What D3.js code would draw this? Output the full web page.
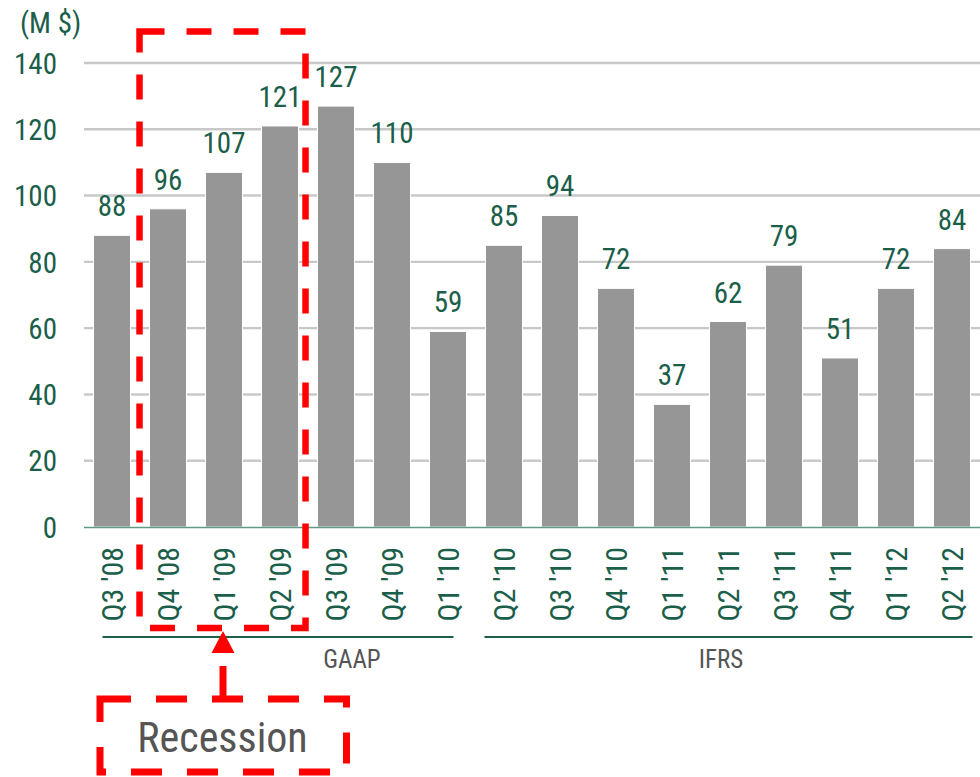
<!DOCTYPE html>
<html>
<head>
<meta charset="utf-8">
<script src="https://cdn.jsdelivr.net/npm/d3@7"></script>
<style>
  html, body { margin: 0; padding: 0; background: #fff; }
  svg { display: block; }
  text { font-family: "Roboto Condensed", "Liberation Sans Narrow", "Arial Narrow", sans-serif; font-weight: 400; }
</style>
</head>
<body>
<svg id="chart" width="980" height="777"></svg>
<script>
// Quarterly figures, millions of dollars
const quarters = ["Q3 '08", "Q4 '08", "Q1 '09", "Q2 '09", "Q3 '09", "Q4 '09", "Q1 '10",
                  "Q2 '10", "Q3 '10", "Q4 '10", "Q1 '11", "Q2 '11", "Q3 '11", "Q4 '11", "Q1 '12", "Q2 '12"];
const values = [88, 96, 107, 121, 127, 110, 59, 85, 94, 72, 37, 62, 79, 51, 72, 84];
const yTicks = [0, 20, 40, 60, 80, 100, 120, 140];
const unitLabel = "(M $)";
// Accounting standard periods
const standards = [
  { name: "GAAP", first: "Q3 '08", last: "Q1 '10" },
  { name: "IFRS", first: "Q2 '10", last: "Q2 '12" }
];
const recession = { first: "Q4 '08", last: "Q2 '09", label: "Recession" };

const GREEN = "#1b5e4a";
const GREY_TEXT = "#555555";
const RED = "#ff0000";

const svg = d3.select("#chart");

const x = d3.scaleBand().domain(quarters).range([84, 980]).paddingInner(0.34).paddingOuter(0.17);
const y = d3.scaleLinear().domain([0, 140]).range([527, 63]);

// Gridlines
svg.append("g")
  .selectAll("line")
  .data(yTicks.filter(d => d > 0))
  .join("line")
  .attr("x1", 84).attr("x2", 980)
  .attr("y1", d => y(d)).attr("y2", d => y(d))
  .attr("stroke", "#c8c8c8").attr("stroke-width", 2.4);

// Y axis labels
const yAxis = svg.append("g")
  .attr("transform", "translate(57,0)")
  .call(d3.axisLeft(y).tickValues(yTicks).tickSize(0).tickPadding(0));
yAxis.select(".domain").remove();
yAxis.selectAll("text")
  .attr("fill", GREEN)
  .attr("font-size", 29)
  .attr("font-family", null)
  .attr("dy", "0.35em");

svg.append("text")
  .attr("x", 20).attr("y", 33)
  .attr("font-size", 29)
  .attr("fill", GREEN)
  .text(unitLabel);

// Bars
svg.append("g")
  .selectAll("rect")
  .data(values)
  .join("rect")
  .attr("x", (d, i) => x(quarters[i]))
  .attr("width", x.bandwidth())
  .attr("y", d => y(d))
  .attr("height", d => y(0) - y(d))
  .attr("fill", "#969696")
  .attr("stroke", "#ffffff")
  .attr("stroke-width", 1);

// Value labels
svg.append("g")
  .selectAll("text")
  .data(values)
  .join("text")
  .attr("x", (d, i) => x(quarters[i]) + x.bandwidth() / 2)
  .attr("y", d => y(d) - 19)
  .attr("text-anchor", "middle")
  .attr("font-size", 29)
  .attr("fill", GREEN)
  .text(d => d);

// X axis
const xAxis = svg.append("g")
  .attr("transform", `translate(0,${y(0)})`)
  .call(d3.axisBottom(x).tickSize(0).tickPadding(0));
xAxis.select(".domain")
  .attr("stroke", "#5f9a86")
  .attr("stroke-width", 1.5)
  .attr("d", "M84,0.5H980");
xAxis.selectAll(".tick text")
  .attr("font-family", null)
  .attr("font-size", 30)
  .attr("fill", GREEN)
  .attr("text-anchor", "end")
  .attr("transform", "translate(0,20) rotate(-90)")
  .attr("x", 0)
  .attr("y", 0)
  .attr("dy", "0.36em");

// Standard period brackets
const stdLayer = svg.append("g");
const lineOffsets = { GAAP: [9, -13], IFRS: [-1, 2] };
const labelX = { GAAP: 352, IFRS: 721 };
standards.forEach(s => {
  const x1 = x(s.first) + lineOffsets[s.name][0];
  const x2 = x(s.last) + x.bandwidth() + lineOffsets[s.name][1];
  stdLayer.append("line")
    .attr("x1", x1).attr("x2", x2)
    .attr("y1", 637).attr("y2", 637)
    .attr("stroke", GREEN).attr("stroke-width", 2);
  stdLayer.append("text")
    .attr("x", labelX[s.name]).attr("y", 668)
    .attr("text-anchor", "middle")
    .attr("font-size", 25)
    .attr("fill", GREY_TEXT)
    .text(s.name);
});

// Recession highlight
const rx1 = x(recession.first) - 10;
const rx2 = x(quarters[quarters.indexOf(recession.last) + 1]) - 12;
svg.append("rect")
  .attr("x", rx1).attr("y", 31.5)
  .attr("width", rx2 - rx1).attr("height", 628 - 31.5)
  .attr("fill", "none")
  .attr("stroke", RED).attr("stroke-width", 6.5)
  .attr("stroke-dasharray", "25 22");

// Callout arrow and box
const ax = 223;
svg.append("path")
  .attr("d", `M${ax},631 L${ax - 11.5},653 L${ax + 11.5},653 Z`)
  .attr("fill", RED);
svg.append("line")
  .attr("x1", ax).attr("x2", ax)
  .attr("y1", 699).attr("y2", 653)
  .attr("stroke", RED).attr("stroke-width", 7)
  .attr("stroke-dasharray", "33 20");
svg.append("rect")
  .attr("x", 100).attr("y", 699)
  .attr("width", 246.5).attr("height", 73)
  .attr("fill", "none")
  .attr("stroke", RED).attr("stroke-width", 7)
  .attr("stroke-dasharray", "31 25");
svg.append("text")
  .attr("x", 222.5).attr("y", 752)
  .attr("text-anchor", "middle")
  .attr("font-size", 42)
  .attr("fill", GREY_TEXT)
  .text(recession.label);
</script>
</body>
</html>
